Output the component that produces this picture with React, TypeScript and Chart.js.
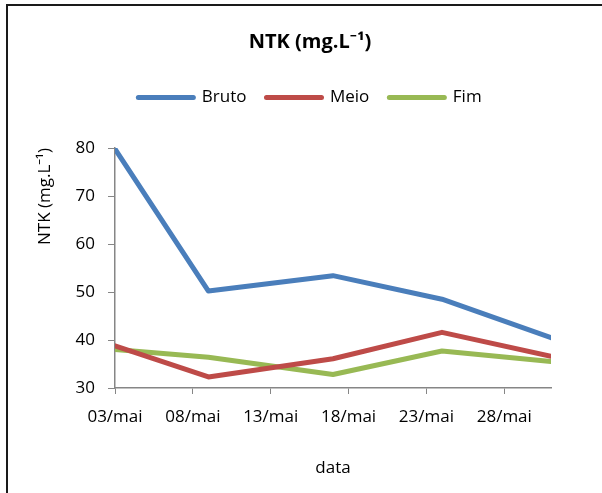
import React, { useEffect, useRef } from "react";
import { Chart, registerables } from "chart.js";

Chart.register(...registerables);

const dates = ["03/mai", "09/mai", "17/mai", "24/mai", "31/mai"];
const bruto = [79.8, 50.2, 53.4, 48.5, 40.5];
const meio = [38.8, 32.3, 36.1, 41.6, 36.6];
const fim = [38.0, 36.4, 32.8, 37.7, 35.5];
const seriesNames = ["Bruto", "Meio", "Fim"];
const seriesColors = ["#4A7EBB", "#BE4B48", "#98B954"];
const firstDay = 3;
const lastDay = 31;
const monthLabel = "mai";

const dayOffset = (d: string) => parseInt(d.slice(0, 2), 10) - firstDay;
const toPoints = (vals: number[]) => vals.map((v, i) => ({ x: dayOffset(dates[i]), y: v }));

const FONT = "'Open Sans', 'Noto Sans', 'DejaVu Sans', sans-serif";

export default function App() {
  const ref = useRef<HTMLCanvasElement | null>(null);
  useEffect(() => {
    if (!ref.current) return;
    const all = [bruto, meio, fim];
    const chart = new Chart(ref.current, {
      type: "line",
      data: {
        datasets: all.map((vals, i) => ({
          label: seriesNames[i],
          data: toPoints(vals),
          borderColor: seriesColors[i],
          backgroundColor: seriesColors[i],
          borderWidth: 5,
          pointRadius: 0,
          pointHoverRadius: 0,
          tension: 0,
          borderCapStyle: "round",
          borderJoinStyle: "round",
        })),
      },
      options: {
        animation: false,
        responsive: false,
        maintainAspectRatio: false,
        color: "#000",
        layout: { padding: { left: 69, right: 51, top: 0, bottom: 0 } },
        plugins: {
          title: {
            display: true,
            text: "NTK (mg.L⁻¹)",
            color: "#000",
            font: { family: FONT, size: 20, weight: "bold" },
            padding: { top: 30, bottom: 15 },
          },
          legend: {
            display: true,
            position: "top",
            labels: {
              color: "#000",
              font: { family: FONT, size: 17 },
              usePointStyle: true,
              pointStyle: "line",
              pointStyleWidth: 55,
              padding: 20,
              generateLabels: (c: any) =>
                Chart.defaults.plugins.legend.labels
                  .generateLabels(c)
                  .map((l: any) => ({ ...l, lineCap: "round", lineWidth: 5 })),
            },
          },
          subtitle: {
            display: true,
            position: "top",
            weight: 500,
            text: " ",
            font: { size: 10 },
            padding: { top: 20, bottom: 0 },
          },
          tooltip: { enabled: false },
        },
        scales: {
          x: {
            type: "linear",
            min: 0,
            max: lastDay - firstDay,
            afterFit: (s: any) => {
              s.height = 105;
            },
            ticks: {
              stepSize: 5,
              includeBounds: false,
              color: "#000",
              font: { family: FONT, size: 17 },
              padding: 13,
              maxRotation: 0,
              autoSkip: false,
              callback: (v: any) => {
                const d = firstDay + Number(v);
                return (d < 10 ? "0" : "") + d + "/" + monthLabel;
              },
            },
            grid: {
              display: true,
              drawOnChartArea: false,
              drawTicks: true,
              tickLength: 6,
              color: "#868686",
            },
            border: { display: true, color: "#868686", width: 1.5 },
            title: {
              display: true,
              text: "data",
              color: "#000",
              font: { family: FONT, size: 17 },
              padding: { top: 0, bottom: 15 },
            },
          },
          y: {
            min: 30,
            max: 80,
            afterFit: (s: any) => {
              s.width = 46;
            },
            ticks: {
              stepSize: 10,
              color: "#000",
              font: { family: FONT, size: 17 },
              padding: 13,
            },
            grid: {
              display: true,
              drawOnChartArea: false,
              drawTicks: true,
              tickLength: 7,
              color: "#868686",
            },
            border: { display: true, color: "#868686", width: 1.5 },
            title: {
              display: true,
              text: "NTK (mg.L⁻¹)",
              align: "end",
              color: "#000",
              font: { family: FONT, size: 17 },
              padding: { top: -34, bottom: 0 },
            },
          },
        },
      },
    } as any);
    return () => chart.destroy();
  }, []);

  return (
    <div
      style={{
        position: "absolute",
        left: 0,
        top: 0,
        width: 602,
        height: 493,
        overflow: "hidden",
        background: "#fff",
      }}
    >
      <div
        style={{
          position: "absolute",
          left: 6,
          top: 4,
          width: 700,
          height: 600,
          borderTop: "2px solid #1a1a1a",
          borderLeft: "2px solid #1a1a1a",
        }}
      />
      <canvas
        ref={ref}
        width={602}
        height={493}
        style={{ position: "absolute", left: 0, top: 0, width: 602, height: 493 }}
      />
    </div>
  );
}
